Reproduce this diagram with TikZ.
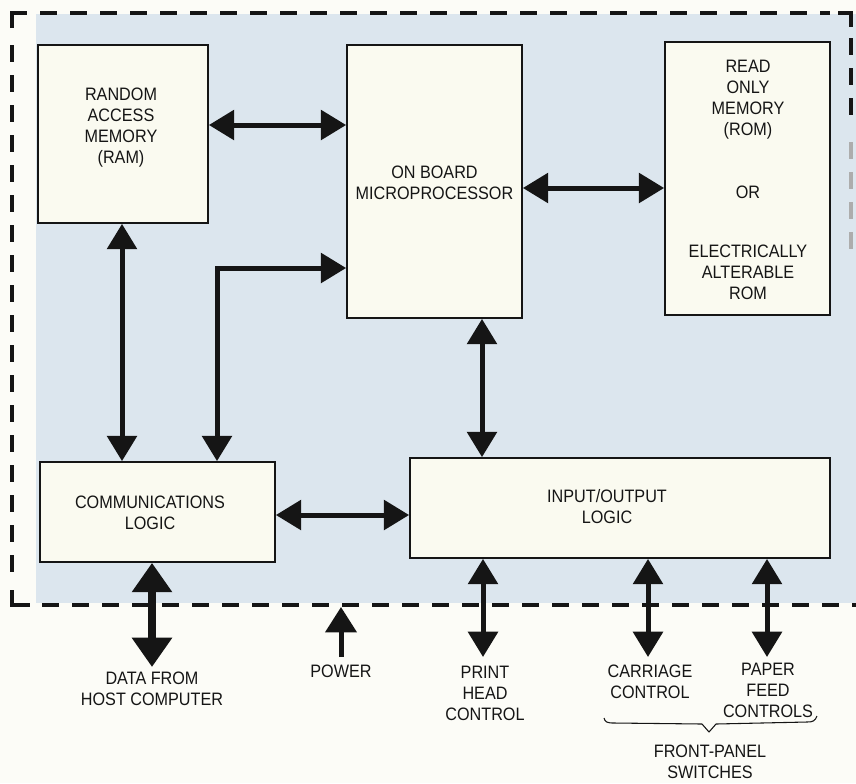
\documentclass[tikz,border=0pt]{standalone}
\usepackage{fontspec}
\setmainfont{Liberation Sans}[FakeStretch=0.9]
\usetikzlibrary{arrows.meta}
\definecolor{bgblue}{HTML}{DCE6EE}
\definecolor{boxfill}{HTML}{FAFAF0}
\definecolor{paper}{HTML}{FCFCF7}
\definecolor{ink}{HTML}{151515}
\begin{document}
\begin{tikzpicture}[x=0.75pt,y=-0.75pt,
  box/.style={draw=ink,fill=boxfill,line width=1.3pt,inner sep=0pt},
  lbl/.style={text=ink,font=\fontsize{13.5}{15.75}\selectfont,align=center,inner sep=0pt},
  dbl/.style={draw=ink,line width=3.75pt,line join=miter,{Triangle[length=19pt,width=22pt]}-{Triangle[length=19pt,width=22pt]}},
  dblthick/.style={draw=ink,line width=6.5pt,{Triangle[length=22pt,width=29pt]}-{Triangle[length=22pt,width=29pt]}},
  uparrow/.style={draw=ink,line width=3.75pt,-{Triangle[length=19pt,width=23pt]}},
  border/.style={draw=ink,line width=3pt,dash pattern=on 12.75pt off 9.75pt},
  corner/.style={draw=ink,line width=3pt,line join=miter},
]
\useasboundingbox (0,0) rectangle (856,783);
\fill[paper] (0,0) rectangle (856,783);
\fill[bgblue] (36,14) rectangle (856,603);

% dashed outline of the printer board
\draw[corner] (12,28) -- (12,13) -- (27,13);
\draw[corner] (12,590) -- (12,605) -- (30,605);
\draw[corner] (838,13) -- (851,13) -- (851,27);
\draw[border] (40,13) -- (830,13);
\draw[border] (12,45) -- (12,580);
\draw[border] (42,605) -- (856,605);
\draw[border] (851,38) -- (851,125);
\draw[border,draw=ink!35] (851,142) -- (851,255);

% blocks
\node[box,minimum width=127.5pt,minimum height=133.5pt] (ram) at (123,134) {};
\node[box,minimum width=131.25pt,minimum height=204.75pt] (cpu) at (434.5,181.5) {};
\node[box,minimum width=123.75pt,minimum height=204.75pt] (rom) at (747.5,178.5) {};
\node[box,minimum width=176.25pt,minimum height=75pt] (comm) at (157.5,512) {};
\node[box,minimum width=315pt,minimum height=75pt] (io) at (620,508) {};

% block texts
\node[lbl] (tram) at (121,128) {RANDOM\\ACCESS\\MEMORY\\(RAM)};
\node[lbl] (tcpu) at (434.5,183) {ON BOARD\\MICROPROCESSOR};
\node[lbl] (trom1) at (748,100) {READ\\ONLY\\MEMORY\\(ROM)};
\node[lbl] (tor) at (748,192) {OR};
\node[lbl] (trom2) at (748,272) {ELECTRICALLY\\ALTERABLE\\ROM};
\node[lbl] (tcomm) at (150,513) {COMMUNICATIONS\\LOGIC};
\node[lbl] (tio) at (607,507) {INPUT/OUTPUT\\LOGIC};

% internal connectors
\coordinate (h1) at (0,125);
\draw[dbl] (ram.east |- h1) -- (cpu.west |- h1);
\coordinate (h2) at (0,188);
\draw[dbl] (cpu.east |- h2) -- (rom.west |- h2);
\coordinate (v1) at (122,0);
\draw[dbl] (ram.south -| v1) -- (comm.north -| v1);
\coordinate (e) at (217,268);
\draw[dbl] (comm.north -| e) |- (cpu.west |- e);
\coordinate (v2) at (482,0);
\draw[dbl] (cpu.south -| v2) -- (io.north -| v2);
\coordinate (h3) at (0,515);
\draw[dbl] (comm.east |- h3) -- (io.west |- h3);

% external connectors
\coordinate (dh) at (152,667);
\draw[dblthick] (comm.south -| dh) -- (dh);
\coordinate (pw0) at (341,657);
\coordinate (pw1) at (341,607);
\draw[uparrow] (pw0) -- (pw1);
\coordinate (ph) at (483,657);
\draw[dbl] (io.south -| ph) -- (ph);
\coordinate (cc) at (648,657);
\draw[dbl] (io.south -| cc) -- (cc);
\coordinate (pf) at (767,657);
\draw[dbl] (io.south -| pf) -- (pf);

% external labels
\node[lbl] (tdh) at (152,689) {DATA FROM\\HOST COMPUTER};
\node[lbl] (tpw) at (341,671) {POWER};
\node[lbl] (tph) at (485,693) {PRINT\\HEAD\\CONTROL};
\node[lbl] (tcc) at (650,682) {CARRIAGE\\CONTROL};
\node[lbl] (tpf) at (768,690) {PAPER\\FEED\\CONTROLS};
\node[lbl] (tfp) at (710,762) {FRONT-PANEL\\SWITCHES};

% brace
\draw[ink,line width=0.8pt,line join=round]
  (604,718) .. controls (605,722) and (607,723) .. (614,723)
  -- (702,724) -- (709,732) -- (716,724) -- (807,722)
  .. controls (813,722) and (815,721) .. (817,716);
\end{tikzpicture}
\end{document}
